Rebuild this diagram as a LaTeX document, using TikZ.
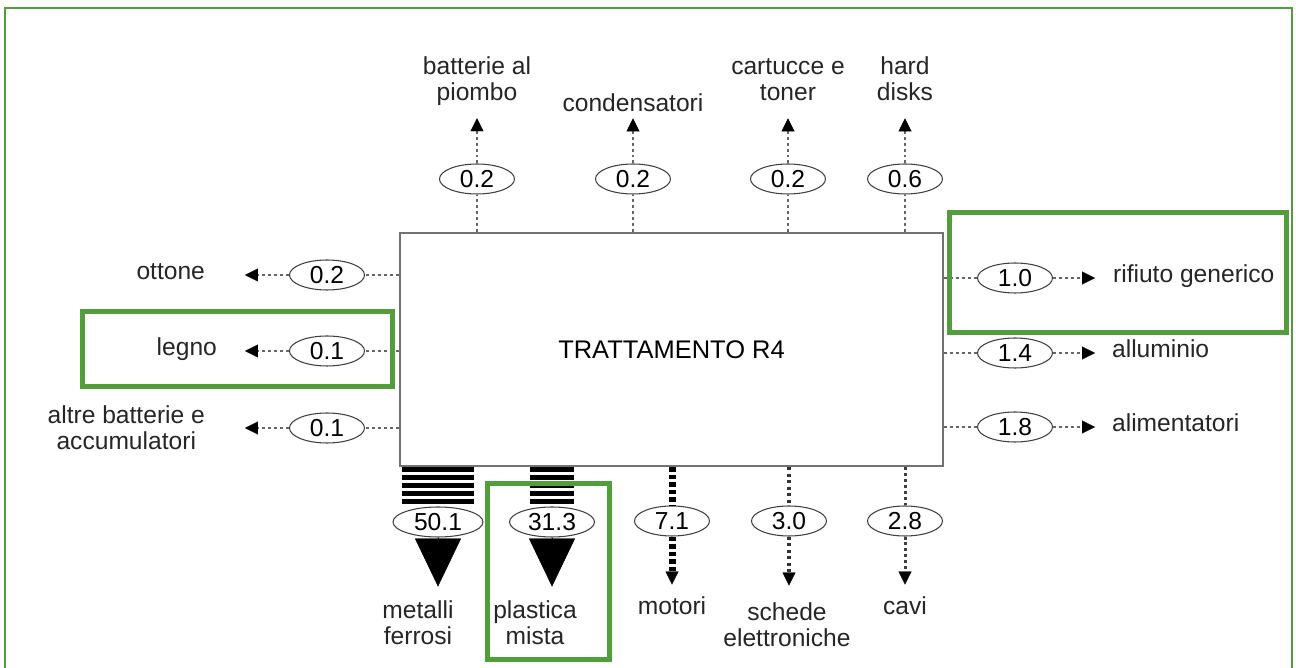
\documentclass[tikz,border=0pt]{standalone}
\usepackage{fontspec}
\setmainfont{Liberation Sans}
\usetikzlibrary{shapes.geometric, arrows.meta, positioning, calc}
\definecolor{hlgreen}{RGB}{82,158,58}
\tikzset{
  qty/.style={ellipse, draw=black!75, fill=white, line width=0.6pt,
              minimum width=1.5cm, minimum height=0.6cm, inner sep=0pt,
              font=\fontsize{14}{16}\selectfont},
  lbl/.style={align=center, inner sep=1pt, text=black!85,
              font=\fontsize{14}{14.8}\selectfont},
  outflow/.style={draw=black!60, line width=0.8pt, dash pattern=on 1.7pt off 1.7pt},
  outarrow/.style={-{Triangle[width=0.26cm, length=0.26cm, line width=0.2pt, color=black]}},
  bigarrow/.style={draw=black, -{Triangle[width=0.92cm, length=0.96cm, line width=0.2pt]}},
  stripes/.style={draw=black, dash pattern=on 0.09cm off 0.07cm},
  hilite/.style={draw=hlgreen, line width=0.1cm}
}

\begin{document}
\begin{tikzpicture}[x=0.02cm, y=-0.02cm]
    \useasboundingbox (0,0) rectangle (1296,668);
    \fill[white] (0,0) rectangle (1296,668);
    \draw[hlgreen, line width=0.05cm] (5,8) rectangle (1292,700);

    \node[draw=black!55, line width=1.2pt, minimum width=10.86cm, minimum height=4.66cm,
          font=\fontsize{14.5}{16}\selectfont] (tr) at (671.5,349.5) {TRATTAMENTO R4};

    \node[qty] (qpiombo) at (477,179) {0.2};
    \node[qty] (qcond) at (633,179) {0.2};
    \node[qty] (qtoner) at (788,179) {0.2};
    \node[qty] (qdisk) at (905,179) {0.6};
    \node[lbl, anchor=base] (piombo) at (477,101) {batterie al\\piombo};
    \node[lbl, anchor=base] (cond) at (633,112) {condensatori};
    \node[lbl, anchor=base] (toner) at (788,101) {cartucce e\\toner};
    \node[lbl, anchor=base] (disk) at (905,101) {hard\\disks};

    \node[qty] (qottone) at (327,275) {0.2};
    \node[qty] (qlegno) at (327,351) {0.1};
    \node[qty] (qaltre) at (327,428) {0.1};
    \node[lbl, anchor=base east] (ottone) at (207,280) {ottone};
    \node[lbl, anchor=base east] (legno) at (219,356) {legno};
    \node[lbl, anchor=base east] (altre) at (207,450) {altre batterie e\\accumulatori};

    \node[qty] (qrifiuto) at (1015,278) {1.0};
    \node[qty] (qallum) at (1015,353) {1.4};
    \node[qty] (qalim) at (1015,427) {1.8};
    \node[lbl, anchor=base west] (rifiuto) at (1111,283) {rifiuto generico};
    \node[lbl, anchor=base west] (allum) at (1110,358) {alluminio};
    \node[lbl, anchor=base west] (alim) at (1110,432) {alimentatori};

    \node[qty, minimum width=1.8cm] (qferro) at (438,522) {50.1};
    \node[qty, minimum width=1.7cm] (qplast) at (552,522) {31.3};
    \node[qty] (qmotori) at (672,521) {7.1};
    \node[qty] (qschede) at (789,521) {3.0};
    \node[qty] (qcavi) at (905,521) {2.8};
    \node[lbl, anchor=base] (ferro) at (418,645) {metalli\\ferrosi};
    \node[lbl, anchor=base] (plast) at (535,645) {plastica\\mista};
    \node[lbl, anchor=base] (motori) at (672,615) {motori};
    \node[lbl, anchor=base] (schede) at (787,647) {schede\\elettroniche};
    \node[lbl, anchor=base] (cavi) at (905,615) {cavi};

    \draw[outflow] (tr.north -| qpiombo) -- (qpiombo);
    \draw[outflow, outarrow, shorten >=0.2cm] (qpiombo) -- (qpiombo |- piombo.south);
    \draw[outflow] (tr.north -| qcond) -- (qcond);
    \draw[outflow, outarrow, shorten >=0.08cm] (qcond) -- (qcond |- cond.south);
    \draw[outflow] (tr.north -| qtoner) -- (qtoner);
    \draw[outflow, outarrow, shorten >=0.3cm] (qtoner) -- (qtoner |- toner.south);
    \draw[outflow] (tr.north -| qdisk) -- (qdisk);
    \draw[outflow, outarrow, shorten >=0.3cm] (qdisk) -- (qdisk |- disk.south);

    \draw[outflow] (tr.west |- qottone) -- (qottone);
    \draw[outflow, outarrow, shorten >=0.76cm] (qottone) -- (qottone -| ottone.east);
    \draw[outflow] (tr.west |- qlegno) -- (qlegno);
    \draw[outflow, outarrow, shorten >=0.52cm] (qlegno) -- (qlegno -| legno.east);
    \draw[outflow] (tr.west |- qaltre) -- (qaltre);
    \draw[outflow, outarrow, shorten >=0.76cm] (qaltre) -- (qaltre -| altre.east);

    \draw[outflow] (tr.east |- qrifiuto) -- (qrifiuto);
    \draw[outflow, outarrow, shorten >=0.32cm] (qrifiuto) -- (qrifiuto -| rifiuto.west);
    \draw[outflow] (tr.east |- qallum) -- (qallum);
    \draw[outflow, outarrow, shorten >=0.3cm] (qallum) -- (qallum -| allum.west);
    \draw[outflow] (tr.east |- qalim) -- (qalim);
    \draw[outflow, outarrow, shorten >=0.3cm] (qalim) -- (qalim -| alim.west);

    \draw[stripes, line width=1.46cm] (tr.south -| qferro) -- (qferro.north);
    \draw[bigarrow, shorten >=0.25cm] (qferro.south) -- (qferro.south |- ferro.north);
    \draw[stripes, line width=0.9cm] (tr.south -| qplast) -- (qplast.north);
    \draw[bigarrow, shorten >=0.25cm] (qplast.south) -- (qplast.south |- plast.north);
    \draw[outflow, draw=black, line width=0.14cm, dash pattern=on 0.09cm off 0.06cm]
        (tr.south -| qmotori) -- (qmotori);
    \draw[outflow, draw=black, line width=0.14cm, dash pattern=on 0.09cm off 0.06cm, outarrow,
        shorten >=0.21cm] (qmotori) -- (qmotori |- motori.north);
    \draw[outflow, draw=black!80, line width=0.08cm, dash pattern=on 0.06cm off 0.07cm]
        (tr.south -| qschede) -- (qschede);
    \draw[outflow, draw=black!80, line width=0.08cm, dash pattern=on 0.06cm off 0.07cm, outarrow,
        shorten >=0.31cm] (qschede) -- (qschede |- schede.north);
    \draw[outflow, draw=black!75, line width=0.06cm] (tr.south -| qcavi) -- (qcavi);
    \draw[outflow, draw=black!75, line width=0.06cm, outarrow, shorten >=0.21cm]
        (qcavi) -- (qcavi |- cavi.north);

    \draw[hilite] (949,213) rectangle (1286,333);
    \draw[hilite] (82,312) rectangle (392,387);
    \draw[hilite] (487.5,483.5) rectangle (609.5,660);
\end{tikzpicture}
\end{document}
